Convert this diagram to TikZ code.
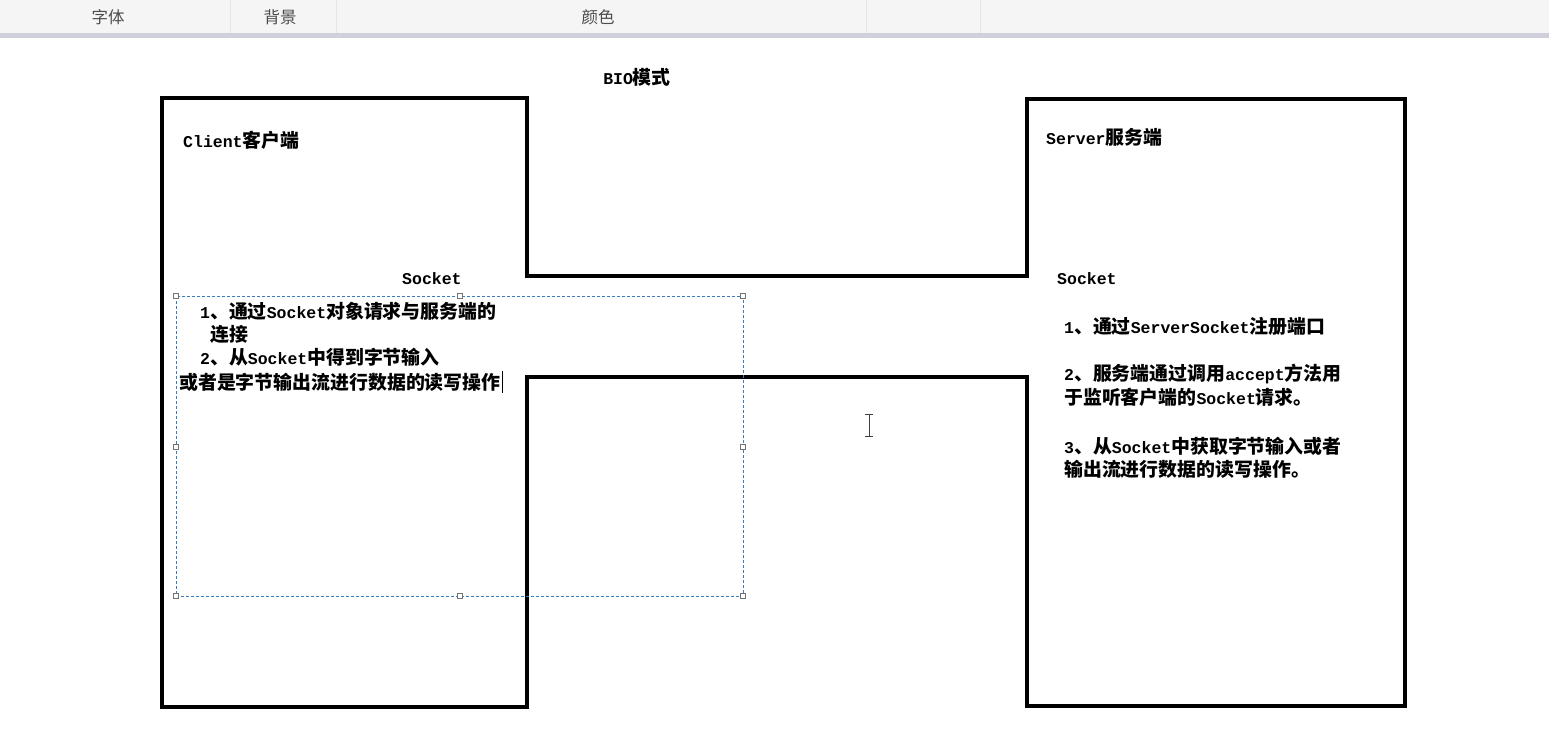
\documentclass[tikz,border=0pt]{standalone}
\usepackage{fontspec}
\usepackage{xcolor}
\setmainfont{Noto Sans CJK SC}
\newfontfamily\monofam{Liberation Mono}
\newcommand{\en}[1]{{\monofam\fontsize{16.5}{20}\selectfont\bfseries #1}}
\definecolor{selblue}{HTML}{3A7DBE}
\definecolor{barline}{HTML}{CFD0DC}

\begin{document}
\begin{tikzpicture}[x=1pt, y=-1pt,
    txt/.style={anchor=west, inner sep=0pt, font=\fontsize{18.9}{22}\selectfont\bfseries},
    tab/.style={inner sep=0pt, text=black!70, font=\fontsize{16.5}{19}\selectfont},
    grip/.style={draw=black!55, fill=white, line width=0.6pt, minimum size=4.5pt, inner sep=0pt}]
  \useasboundingbox (0,0) rectangle (1549,734);
  \fill[white] (0,0) rectangle (1549,734);

  \fill[black!4] (0,0) rectangle (1549,33);
  \fill[barline] (0,33) rectangle (1549,38);
  \foreach \x in {230,336,866,980} \draw[black!10] (\x,0) -- (\x,33);
  \node[tab] (tabfont) at (108,17) {字体};
  \node[tab] (tabback) at (280,17) {背景};
  \node[tab] (tabcolor) at (598,17) {颜色};

  \node[txt, anchor=center] (title) at (637,77) {\en{BIO}模式};

  \draw[line width=4.2pt, line join=miter] (1027,276) -- (527,276) -- (527,98) -- (162,98) -- (162,707)
    -- (527,707) -- (527,377) -- (1027,377) -- (1027,706) -- (1405,706) -- (1405,99) -- (1027,99) -- cycle;

  \node[txt] (client) at (183,140) {\en{Client}客户端};
  \node[txt] (csock) at (402,279) {\en{Socket}};
  \node[txt] (cstep1) at (200,311) {\en{1}、通过\en{Socket}对象请求与服务端的};
  \node[txt] (cstep1b) at (210,334) {连接};
  \node[txt] (cstep2) at (200,357) {\en{2}、从\en{Socket}中得到字节输入};
  \node[txt] (cstep2b) at (179,382) {或者是字节输出流进行数据的读写操作};
  \draw[line width=1pt] (cstep2b.east) ++(2,-11) -- ++(0,22);

  \node[txt] (server) at (1046,137) {\en{Server}服务端};
  \node[txt] (ssock) at (1057,279) {\en{Socket}};
  \node[txt] (sstep1) at (1064,326) {\en{1}、通过\en{ServerSocket}注册端口};
  \node[txt] (sstep2) at (1064,374) {\en{2}、服务端通过调用\en{accept}方法用};
  \node[txt] (sstep2b) at (1064,397) {于监听客户端的\en{Socket}请求。};
  \node[txt] (sstep3) at (1064,446) {\en{3}、从\en{Socket}中获取字节输入或者};
  \node[txt] (sstep3b) at (1064,469) {输出流进行数据的读写操作。};

  \draw[selblue, line width=0.8pt, dash pattern=on 3pt off 2pt] (176,296) rectangle (743,596);
  \foreach \p in {(176,296),(460,296),(743,296),(176,447),(743,447),(176,596),(460,596),(743,596)}
    \node[grip] at \p {};

  \draw[black!75, line width=0.9pt] (869,414) -- (869,436) (865,414) -- (873,414) (865,436) -- (873,436);
\end{tikzpicture}
\end{document}
